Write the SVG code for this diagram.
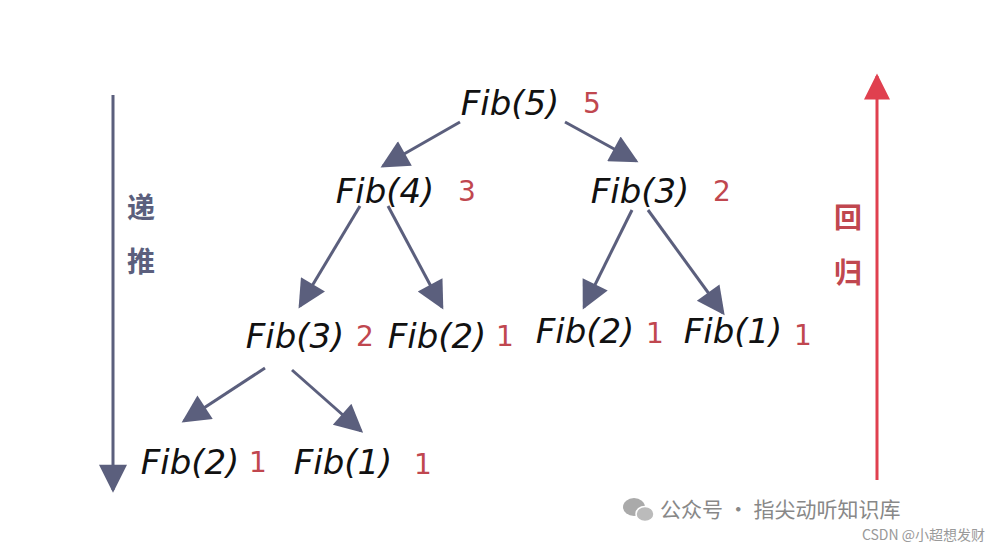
<svg xmlns="http://www.w3.org/2000/svg" width="1000" height="549" viewBox="0 0 1000 549">
<style>
.n{font-family:"Comic Sans MS","DejaVu Sans",sans-serif;font-size:34px;fill:#111;text-anchor:middle;font-style:italic}
.v{font-family:"DejaVu Sans",sans-serif;font-size:28px;fill:#c0474f;text-anchor:middle}
.c{stroke:#5b5f7d;stroke-width:3;fill:none;marker-end:url(#b)}
.cj{font-family:"Noto Sans CJK SC",sans-serif;font-size:28px;text-anchor:middle;font-weight:bold}
</style>
<defs>
<marker id="b" viewBox="0 0 10 10" refX="9" refY="5" markerWidth="34" markerHeight="28" orient="auto" markerUnits="userSpaceOnUse"><path d="M0,0 L10,5 L0,10 Z" fill="#5b5f7d"/></marker>
<marker id="r" viewBox="0 0 10 10" refX="9" refY="5" markerWidth="34" markerHeight="26" orient="auto" markerUnits="userSpaceOnUse"><path d="M0,0 L10,5 L0,10 Z" fill="#e0404f"/></marker>
</defs>
<rect width="1000" height="549" fill="#fff"/>
<g id="connectors">
<line x1="460" y1="122" x2="383" y2="166" class="c"/>
<line x1="565" y1="122" x2="636" y2="161" class="c"/>
<line x1="360" y1="206" x2="300" y2="306" class="c"/>
<line x1="388" y1="206" x2="442" y2="307" class="c"/>
<line x1="632" y1="210" x2="584" y2="307" class="c"/>
<line x1="648" y1="210" x2="723" y2="313" class="c"/>
<line x1="265" y1="368" x2="184" y2="421" class="c"/>
<line x1="292" y1="370" x2="361" y2="431" class="c"/>
<line x1="113" y1="95" x2="113" y2="490" class="c"/>
<line x1="877" y1="480" x2="877" y2="76" stroke="#e0404f" stroke-width="3" marker-end="url(#r)"/>
</g>
<g id="n5"><text class="n" x="510" y="115">Fib(5)</text><text class="v" x="592" y="113">5</text></g>
<g id="n4"><text class="n" x="385" y="203">Fib(4)</text><text class="v" x="467" y="201">3</text></g>
<g id="n3a"><text class="n" x="640" y="203">Fib(3)</text><text class="v" x="722" y="201">2</text></g>
<g id="n3b"><text class="n" x="295" y="348">Fib(3)</text><text class="v" x="365" y="346">2</text></g>
<g id="n2a"><text class="n" x="437" y="348">Fib(2)</text><text class="v" x="505" y="346">1</text></g>
<g id="n2b"><text class="n" x="585" y="343">Fib(2)</text><text class="v" x="655" y="343">1</text></g>
<g id="n1a"><text class="n" x="733" y="343">Fib(1)</text><text class="v" x="803" y="345">1</text></g>
<g id="n2c"><text class="n" x="190" y="474">Fib(2)</text><text class="v" x="258" y="472">1</text></g>
<g id="n1b"><text class="n" x="343" y="474">Fib(1)</text><text class="v" x="423" y="474">1</text></g>
<g id="l1"><text class="cj" x="141" y="218" fill="#5b5f7d">递</text><text class="cj" x="141" y="272" fill="#5b5f7d">推</text></g>
<g id="l2"><text class="cj" x="848" y="228" fill="#c0474f">回</text><text class="cj" x="848" y="283" fill="#c0474f">归</text></g>
<g id="wm">
<ellipse cx="634" cy="507" rx="11" ry="9" fill="#aaa"/><ellipse cx="645" cy="514" rx="9" ry="7.5" fill="#bbb" stroke="#fff" stroke-width="1.5"/>
<text x="660" y="517" font-family="Noto Sans CJK SC,sans-serif" font-size="21" fill="#888">公众号 · 指尖动听知识库</text>
<text x="985" y="540" font-family="Noto Sans CJK SC,sans-serif" font-size="14" fill="#999" text-anchor="end">CSDN @小超想发财</text>
</g>
</svg>
